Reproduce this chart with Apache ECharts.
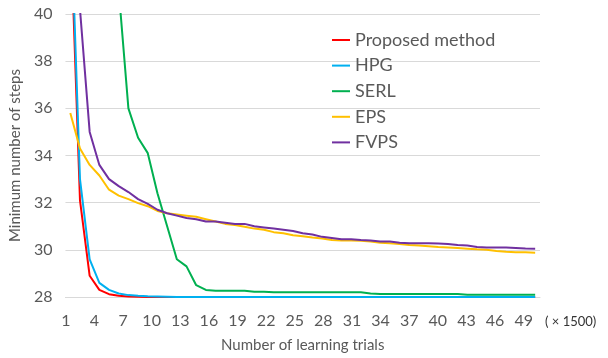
<!DOCTYPE html>
<html>
<head>
<meta charset="utf-8">
<script src="https://cdn.jsdelivr.net/npm/echarts@6/dist/echarts.min.js"></script>
<style>
  html, body { margin: 0; padding: 0; background: #fff; }
  #chart { width: 608px; height: 358px; }
</style>
</head>
<body>
<div id="chart"></div>
<script>
// learning trials 1..49 (x1500)
const trials = Array.from({ length: 49 }, (_, i) => String(i + 1))

const seriesNames = ['Proposed method', 'HPG', 'SERL', 'EPS', 'FVPS']
const seriesColors = ['#ff0000', '#00b0f0', '#00b050', '#ffc000', '#7030a0']

const proposed = [44, 32.1, 28.9, 28.3, 28.12, 28.05, 28.02, 28.01, 28, 28,
  28, 28, 28, 28, 28, 28, 28, 28, 28, 28,
  28, 28, 28, 28, 28, 28, 28, 28, 28, 28,
  28, 28, 28, 28, 28, 28, 28, 28, 28, 28,
  28, 28, 28, 28, 28, 28, 28, 28, 28]

const hpg = [45, 33.0, 29.6, 28.6, 28.3, 28.15, 28.08, 28.05, 28.03, 28.02,
  28.01, 28, 28, 28, 28, 28, 28, 28, 28, 28,
  28, 28, 28, 28, 28, 28, 28, 28, 28, 28,
  28, 28, 28, 28, 28, 28, 28, 28, 28, 28,
  28, 28, 28, 28, 28, 28, 28, 28, 28]

const serl = [60, 58, 55, 52, 47, 41, 36.0, 34.75, 34.1, 32.4,
  31.0, 29.6, 29.3, 28.5, 28.3, 28.27, 28.27, 28.27, 28.27, 28.22,
  28.22, 28.2, 28.2, 28.2, 28.2, 28.2, 28.2, 28.2, 28.2, 28.2,
  28.2, 28.15, 28.13, 28.13, 28.13, 28.13, 28.13, 28.13, 28.13, 28.13,
  28.13, 28.1, 28.1, 28.1, 28.1, 28.1, 28.1, 28.1, 28.1]

const eps = [35.8, 34.3, 33.6, 33.15, 32.55, 32.3, 32.15, 31.98, 31.85, 31.65,
  31.55, 31.5, 31.45, 31.4, 31.3, 31.2, 31.1, 31.05, 30.98, 30.9,
  30.85, 30.75, 30.7, 30.62, 30.58, 30.52, 30.48, 30.42, 30.4, 30.4,
  30.38, 30.35, 30.3, 30.28, 30.25, 30.2, 30.18, 30.15, 30.12, 30.1,
  30.08, 30.05, 30.02, 30.0, 29.95, 29.92, 29.9, 29.9, 29.88]

const fvps = [48, 40.2, 35.0, 33.6, 33.0, 32.7, 32.45, 32.15, 31.95, 31.7,
  31.55, 31.45, 31.35, 31.3, 31.2, 31.2, 31.15, 31.1, 31.1, 31.0,
  30.95, 30.9, 30.85, 30.8, 30.7, 30.65, 30.55, 30.5, 30.45, 30.45,
  30.42, 30.4, 30.35, 30.35, 30.3, 30.28, 30.28, 30.28, 30.27, 30.25,
  30.2, 30.18, 30.12, 30.1, 30.1, 30.1, 30.08, 30.06, 30.05]

const seriesData = [proposed, hpg, serl, eps, fvps]

const textColor = '#595959'
const fontFamily = 'Lato, sans-serif'

const chart = echarts.init(document.getElementById('chart'))

const option = {
  animation: false,
  textStyle: { fontFamily: fontFamily },
  grid: [
    { left: 61, right: 68, top: 14, bottom: 61 },
    // tick labels in the original sit on a slightly tighter spacing than the data
    { left: 61, width: 467.5, top: 14, bottom: 61 }
  ],
  legend: {
    orient: 'vertical',
    left: 327,
    top: 25,
    icon: 'rect',
    itemWidth: 18,
    itemHeight: 2,
    itemGap: 5.6,
    data: seriesNames,
    textStyle: { color: textColor, fontSize: 18, lineHeight: 20, fontFamily: fontFamily }
  },
  xAxis: [
    {
      type: 'category',
      data: trials,
      boundaryGap: true,
      name: 'Number of learning trials',
      nameLocation: 'middle',
      nameGap: 41,
      nameTextStyle: { color: textColor, fontSize: 15, verticalAlign: 'top' },
      axisLine: { lineStyle: { color: '#d9d9d9' } },
      axisTick: { show: false },
      axisLabel: { show: false }
    },
    {
      type: 'category',
      gridIndex: 1,
      data: trials,
      boundaryGap: true,
      axisLine: { show: false },
      axisTick: { show: false },
      axisLabel: { interval: 2, color: textColor, fontSize: 16, margin: 16 }
    }
  ],
  yAxis: [
    {
      type: 'value',
      min: 28,
      max: 40,
      interval: 2,
      name: 'Minimum number of steps',
      nameLocation: 'middle',
      nameGap: 35,
      nameTextStyle: { color: textColor, fontSize: 15 },
      axisLine: { show: false },
      axisTick: { show: false },
      axisLabel: { color: textColor, fontSize: 16, margin: 13 },
      splitLine: { lineStyle: { color: '#d9d9d9' } }
    },
    { type: 'value', gridIndex: 1, min: 28, max: 40, show: false }
  ],
  graphic: [{
    type: 'text',
    left: 545,
    top: 315,
    style: { text: '( × 1500)', fill: '#333', fontSize: 13, fontFamily: fontFamily }
  }],
  series: seriesNames.map((name, i) => ({
    name: name,
    type: 'line',
    data: seriesData[i],
    symbol: 'none',
    clip: true,
    lineStyle: { color: seriesColors[i], width: 2 },
    itemStyle: { color: seriesColors[i] }
  }))
}

chart.setOption(option)
</script>
</body>
</html>
